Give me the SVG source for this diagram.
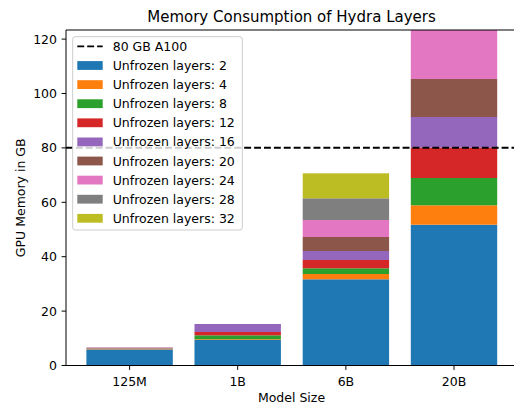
<svg xmlns="http://www.w3.org/2000/svg" width="514" height="406" viewBox="0 0 514 406">
<style>
text{font-family:"DejaVu Sans","Liberation Sans",sans-serif;fill:#000}
.t{font-size:12.5px}
.ttl{font-size:15px}
.c0{fill:#1f77b4}.c1{fill:#ff7f0e}.c2{fill:#2ca02c}.c3{fill:#d62728}.c4{fill:#9467bd}.c5{fill:#8c564b}.c6{fill:#e377c2}.c7{fill:#7f7f7f}.c8{fill:#bcbd22}
.ax{stroke:#000;stroke-width:1;fill:none}
.dash{stroke:#000;stroke-width:1.875;stroke-dasharray:6.9 3;fill:none}
</style>
<defs><clipPath id="clip"><rect x="66" y="30" width="451" height="335.5"/></clipPath></defs>
<rect width="514" height="406" fill="#fff"/>
<g id="bars" clip-path="url(#clip)">
<g id="bar-125M">
<rect class="c0" x="86.4" y="349.4" width="86.4" height="16.1"/>
<rect class="c1" x="86.4" y="348.9" width="86.4" height="0.5"/>
<rect class="c2" x="86.4" y="348.5" width="86.4" height="0.4"/>
<rect class="c3" x="86.4" y="348.2" width="86.4" height="0.3"/>
<rect class="c4" x="86.4" y="347.9" width="86.4" height="0.3"/>
<rect class="c5" x="86.4" y="347.6" width="86.4" height="0.3"/>
<rect class="c6" x="86.4" y="347.3" width="86.4" height="0.3"/>
</g>
<g id="bar-1B">
<rect class="c0" x="194.5" y="340" width="86.4" height="25.5"/>
<rect class="c1" x="194.5" y="339.3" width="86.4" height="0.7"/>
<rect class="c2" x="194.5" y="335.3" width="86.4" height="4"/>
<rect class="c3" x="194.5" y="332" width="86.4" height="3.3"/>
<rect class="c4" x="194.5" y="324" width="86.4" height="8"/>
</g>
<g id="bar-6B">
<rect class="c0" x="302.7" y="279.3" width="86.4" height="86.2"/>
<rect class="c1" x="302.7" y="274" width="86.4" height="5.3"/>
<rect class="c2" x="302.7" y="268.3" width="86.4" height="5.7"/>
<rect class="c3" x="302.7" y="260" width="86.4" height="8.3"/>
<rect class="c4" x="302.7" y="251" width="86.4" height="9"/>
<rect class="c5" x="302.7" y="237" width="86.4" height="14"/>
<rect class="c6" x="302.7" y="220" width="86.4" height="17"/>
<rect class="c7" x="302.7" y="198.3" width="86.4" height="21.7"/>
<rect class="c8" x="302.7" y="173.3" width="86.4" height="25"/>
</g>
<g id="bar-20B">
<rect class="c0" x="410.8" y="224.7" width="86.4" height="140.8"/>
<rect class="c1" x="410.8" y="205.3" width="86.4" height="19.4"/>
<rect class="c2" x="410.8" y="178" width="86.4" height="27.3"/>
<rect class="c3" x="410.8" y="147.7" width="86.4" height="30.3"/>
<rect class="c4" x="410.8" y="117" width="86.4" height="30.7"/>
<rect class="c5" x="410.8" y="79" width="86.4" height="38"/>
<rect class="c6" x="410.8" y="20" width="86.4" height="59"/>
</g>
</g>
<g id="connectors">
<line class="dash" x1="66" y1="147.8" x2="514" y2="147.8"/>
</g>
<g id="axes">
<line class="ax" x1="66" y1="30" x2="66" y2="365.5"/>
<line class="ax" x1="66" y1="365.5" x2="514" y2="365.5"/>
<line class="ax" x1="66" y1="30" x2="514" y2="30"/>
<g class="ax">
<line x1="61.6" y1="365.5" x2="66" y2="365.5"/>
<line x1="61.6" y1="311.1" x2="66" y2="311.1"/>
<line x1="61.6" y1="256.7" x2="66" y2="256.7"/>
<line x1="61.6" y1="202.3" x2="66" y2="202.3"/>
<line x1="61.6" y1="147.9" x2="66" y2="147.9"/>
<line x1="61.6" y1="93.5" x2="66" y2="93.5"/>
<line x1="61.6" y1="39.1" x2="66" y2="39.1"/>
<line x1="129.6" y1="365.5" x2="129.6" y2="369.9"/>
<line x1="237.7" y1="365.5" x2="237.7" y2="369.9"/>
<line x1="345.9" y1="365.5" x2="345.9" y2="369.9"/>
<line x1="454" y1="365.5" x2="454" y2="369.9"/>
</g>
<g class="t" text-anchor="end">
<text x="57" y="370">0</text>
<text x="57" y="315.6">20</text>
<text x="57" y="261.2">40</text>
<text x="57" y="206.8">60</text>
<text x="57" y="152.4">80</text>
<text x="57" y="98">100</text>
<text x="57" y="43.6">120</text>
</g>
<g class="t" text-anchor="middle">
<text x="129.6" y="385.7">125M</text>
<text x="237.7" y="385.7">1B</text>
<text x="345.9" y="385.7">6B</text>
<text x="454" y="385.7">20B</text>
<text x="291.5" y="402.3">Model Size</text>
<text transform="translate(24.5,197.8) rotate(-90)">GPU Memory in GB</text>
</g>
<text class="ttl" x="291.5" y="21.5" text-anchor="middle">Memory Consumption of Hydra Layers</text>
</g>
<g id="legend">
<rect x="72.7" y="36.7" width="169.6" height="193.3" rx="2.5" fill="#fff" fill-opacity="0.8" stroke="#cccccc" stroke-width="1"/>
<line class="dash" x1="77.3" y1="46.4" x2="102.7" y2="46.4"/>
<rect class="c0" x="77.3" y="61.1" width="25.4" height="8.8"/>
<rect class="c1" x="77.3" y="80.2" width="25.4" height="8.8"/>
<rect class="c2" x="77.3" y="99.3" width="25.4" height="8.8"/>
<rect class="c3" x="77.3" y="118.4" width="25.4" height="8.8"/>
<rect class="c4" x="77.3" y="137.5" width="25.4" height="8.8"/>
<rect class="c5" x="77.3" y="156.6" width="25.4" height="8.8"/>
<rect class="c6" x="77.3" y="175.7" width="25.4" height="8.8"/>
<rect class="c7" x="77.3" y="194.8" width="25.4" height="8.8"/>
<rect class="c8" x="77.3" y="213.9" width="25.4" height="8.8"/>
<g class="t">
<text x="112.7" y="50.9">80 GB A100</text>
<text x="112.7" y="70">Unfrozen layers: 2</text>
<text x="112.7" y="89.1">Unfrozen layers: 4</text>
<text x="112.7" y="108.2">Unfrozen layers: 8</text>
<text x="112.7" y="127.3">Unfrozen layers: 12</text>
<text x="112.7" y="146.4">Unfrozen layers: 16</text>
<text x="112.7" y="165.5">Unfrozen layers: 20</text>
<text x="112.7" y="184.6">Unfrozen layers: 24</text>
<text x="112.7" y="203.7">Unfrozen layers: 28</text>
<text x="112.7" y="222.8">Unfrozen layers: 32</text>
</g>
</g>
</svg>
